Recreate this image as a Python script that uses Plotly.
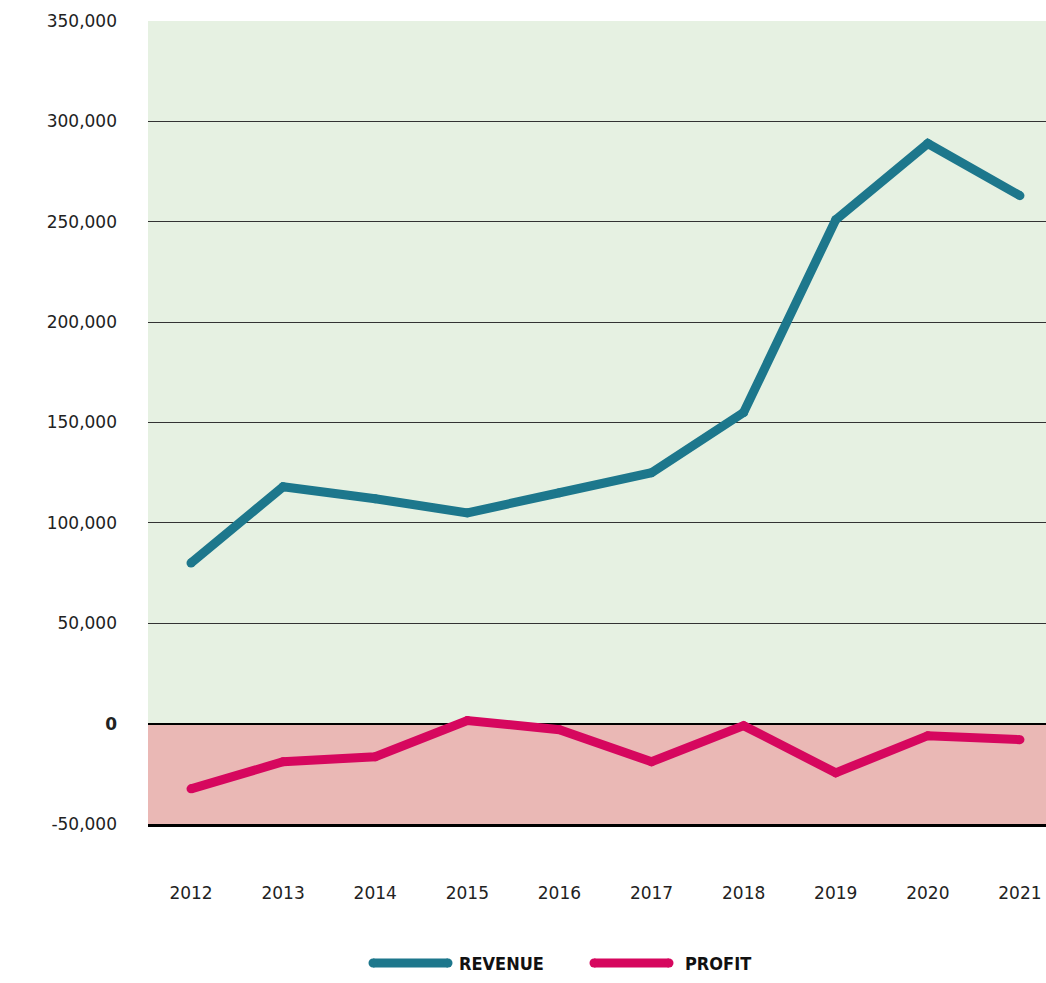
import plotly.graph_objects as go

years = ["2012", "2013", "2014", "2015", "2016", "2017", "2018", "2019", "2020", "2021"]
revenue = [80000, 118000, 112000, 105000, 115000, 125000, 155000, 251000, 289000, 263000]
profit = [-32500, -19000, -16500, 1500, -3000, -19000, -1000, -24500, -6000, -8000]
y_tick_vals = [-50000, 0, 50000, 100000, 150000, 200000, 250000, 300000, 350000]
y_tick_text = ["-50,000", "<b>0</b>", "50,000", "100,000", "150,000", "200,000",
               "250,000", "300,000", "350,000"]
series_names = ["REVENUE", "PROFIT"]

REV = "#1d778c"
PRO = "#d6075e"
W, H = 1046, 983
L, T, B = 148, 21, 159
PW, PH = W - L, H - T - B


def px_x(p):
    return (p - L) / PW


def px_y(p):
    return (H - B - p) / PH


fig = go.Figure()
fig.add_trace(go.Scatter(x=years, y=revenue, mode="lines+markers", name=series_names[0],
                         line=dict(color=REV, width=9), marker=dict(size=9, color=REV),
                         showlegend=False, cliponaxis=False))
fig.add_trace(go.Scatter(x=years, y=profit, mode="lines+markers", name=series_names[1],
                         line=dict(color=PRO, width=9), marker=dict(size=9, color=PRO),
                         showlegend=False, cliponaxis=False))

shapes = [
    dict(type="rect", xref="paper", yref="y", x0=0, x1=1, y0=0, y1=350000,
         fillcolor="#e6f1e2", line=dict(width=0), layer="below"),
    dict(type="rect", xref="paper", yref="y", x0=0, x1=1, y0=-50000, y1=0,
         fillcolor="#eab8b5", line=dict(width=0), layer="below"),
]

annotations = []
legend_y = px_y(963)
for name, col, x0, x1, tx in [(series_names[0], REV, 373, 448, 457),
                              (series_names[1], PRO, 594, 669, 683)]:
    shapes.append(dict(type="line", xref="paper", yref="paper", x0=px_x(x0), x1=px_x(x1),
                       y0=legend_y, y1=legend_y, line=dict(color=col, width=9)))
    for cx in (x0, x1):
        shapes.append(dict(type="circle", xref="paper", yref="paper", xsizemode="pixel",
                           ysizemode="pixel", xanchor=px_x(cx), yanchor=legend_y,
                           x0=-4.5, x1=4.5, y0=-4.5, y1=4.5, fillcolor=col,
                           line=dict(width=0)))
    annotations.append(dict(xref="paper", yref="paper", x=px_x(tx), y=legend_y,
                            xanchor="left", yanchor="middle", showarrow=False,
                            text="<b>" + name + "</b>",
                            font=dict(family="DejaVu Sans Condensed", size=18, color="#111")))

fig.update_layout(
    width=W, height=H,
    margin=dict(l=L, r=0, t=T, b=B),
    paper_bgcolor="white", plot_bgcolor="white",
    shapes=shapes, annotations=annotations,
    font=dict(family="DejaVu Sans", size=17, color="#222"),
    showlegend=False,
)
fig.update_xaxes(type="category", range=[-0.467, 9.283], showgrid=False,
                 showline=True, linewidth=3, linecolor="black",
                 ticks="", ticklabelstandoff=52, tickfont=dict(size=17, color="#222"))
fig.update_yaxes(range=[-50000, 350000], tickvals=y_tick_vals, ticktext=y_tick_text,
                 showgrid=True, gridcolor="#333", gridwidth=1,
                 zeroline=True, zerolinecolor="black", zerolinewidth=1.5,
                 ticks="", ticklabelstandoff=30, tickfont=dict(size=17, color="#222"))

fig.write_html(
    "out.html",
    config={"displayModeBar": False},
    post_script="document.body.style.margin='0';document.body.style.overflow='hidden';",
)
